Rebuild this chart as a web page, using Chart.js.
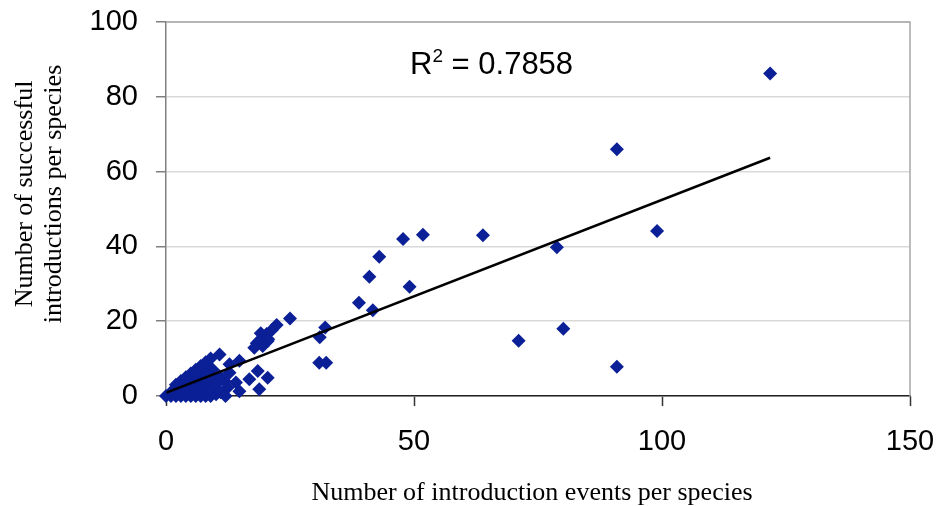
<!DOCTYPE html>
<html>
<head>
<meta charset="utf-8">
<script src="https://cdn.jsdelivr.net/npm/chart.js@4/dist/chart.umd.min.js"></script>
<style>
  html, body { margin: 0; padding: 0; background: #ffffff; }
  #wrap { width: 941px; height: 506px; }
</style>
</head>
<body>
<div id="wrap"><canvas id="chart" width="941" height="506"></canvas></div>
<script>
// Introduction events per species (x) and successful introductions per species (y)
const introEvents = [
  121.8, 90.9, 99.0, 78.8, 63.9, 51.8, 47.8, 43.0, 41.0, 38.9, 41.7, 49.1, 32.1, 31.0, 30.9, 32.3, 71.1, 80.1, 90.9, 25.0,
  22.3, 21.3, 20.3, 19.3, 18.3, 19.1, 20.6, 18.8, 20.5, 19.5, 17.8,
  10.8, 8.1, 12.8, 14.8, 12.8, 16.8, 18.5, 20.5, 18.8, 14.8, 12.4, 10.1, 8.7, 14.1, 11.8, 9.4, 7.1, 10.8, 9.1,
  0, 1, 1, 2, 2, 2, 2, 3, 3, 3, 3, 3, 4, 4, 4, 4, 4, 4, 5, 5, 5, 5, 5, 5, 5,
  6, 6, 6, 6, 6, 6, 6, 6, 7, 7, 7, 7, 7, 7, 7, 7, 8, 8, 8, 8, 8, 8, 8, 8, 9, 9, 9, 9, 10, 11, 12
];
const successfulIntros = [
  86.2, 66.0, 44.1, 39.8, 43.0, 43.1, 42.0, 37.2, 31.9, 24.9, 22.9, 29.2, 18.3, 15.7, 8.9, 8.9, 14.8, 18.0, 7.8, 20.7,
  19.0, 17.6, 16.6, 15.4, 14.1, 16.8, 15.2, 14.7, 14.7, 13.4, 12.9,
  11.1, 8.0, 8.5, 9.4, 6.2, 4.5, 6.7, 4.9, 1.8, 1.3, 2.2, 0.5, 0.9, 3.6, 4.0, 7.1, 7.1, 5.3, 3.6,
  0, 0, 1, 0, 1, 2, 3, 0, 1, 2, 3, 4, 0, 1, 2, 3, 4, 5, 0, 1, 2, 3, 4, 5, 6,
  0, 1, 2, 3, 4, 5, 6, 7, 0, 1, 2, 3, 4, 5, 6, 8, 0, 1, 2, 3, 4, 5, 6, 9, 0, 2, 5, 10, 3, 1, 0
];

// Linear trend line end points
const trendX = [0.1, 121.8];
const trendY = [0.9, 63.7];

const rSquaredText = '0.7858';
const xTitle = 'Number of introduction events per species';
const yTitleLines = ['Number of successful', 'introductions per species'];

const points = introEvents.map((x, i) => ({ x: x, y: successfulIntros[i] }));
const trend = trendX.map((x, i) => ({ x: x, y: trendY[i] }));

const markerColor = '#0b1f96';
const tickFont = { family: '"Liberation Sans", Arial, sans-serif', size: 29 };

// Axis titles, R² label and plot-area frame
const annotations = {
  id: 'annotations',
  afterDraw(chart) {
    const ctx = chart.ctx;
    const area = chart.chartArea;
    ctx.save();

    // frame on top and right of the plot area
    ctx.strokeStyle = '#a6a6a6';
    ctx.lineWidth = 1.5;
    ctx.beginPath();
    ctx.moveTo(area.left, area.top);
    ctx.lineTo(area.right, area.top);
    ctx.lineTo(area.right, area.bottom);
    ctx.stroke();

    // x axis title
    ctx.fillStyle = '#000000';
    ctx.font = '26px "Liberation Serif", "Times New Roman", serif';
    ctx.textAlign = 'center';
    ctx.textBaseline = 'alphabetic';
    ctx.fillText(xTitle, 532, 500);

    // y axis title (two lines, rotated)
    ctx.save();
    ctx.translate(0, 194);
    ctx.rotate(-Math.PI / 2);
    ctx.fillText(yTitleLines[0], 0, 32);
    ctx.fillText(yTitleLines[1], 0, 61);
    ctx.restore();

    // R² label
    ctx.textAlign = 'left';
    ctx.font = '31px "Liberation Sans", Arial, sans-serif';
    let x = 410;
    const base = 74;
    ctx.fillText('R', x, base);
    x += ctx.measureText('R').width;
    ctx.font = '19px "Liberation Sans", Arial, sans-serif';
    ctx.fillText('2', x, base - 12);
    x += ctx.measureText('2').width;
    ctx.font = '31px "Liberation Sans", Arial, sans-serif';
    ctx.fillText(' = ' + rSquaredText, x, base);

    ctx.restore();
  }
};

new Chart(document.getElementById('chart'), {
  type: 'scatter',
  data: {
    datasets: [
      {
        label: 'Species',
        data: points,
        pointStyle: 'rectRot',
        pointRadius: 7,
        pointBackgroundColor: markerColor,
        pointBorderColor: markerColor,
        pointBorderWidth: 0,
        clip: false,
        order: 2
      },
      {
        label: 'Linear trend',
        type: 'line',
        data: trend,
        borderColor: '#000000',
        borderWidth: 2.5,
        pointRadius: 0,
        fill: false,
        order: 1
      }
    ]
  },
  options: {
    responsive: false,
    animation: false,
    devicePixelRatio: 1,
    layout: { padding: { top: 22, right: 31, left: 0, bottom: 0 } },
    plugins: {
      legend: { display: false },
      tooltip: { enabled: false }
    },
    scales: {
      x: {
        type: 'linear',
        min: 0,
        max: 150,
        ticks: { stepSize: 50, color: '#000000', font: tickFont, padding: 19, maxRotation: 0 },
        grid: { drawOnChartArea: false, drawTicks: true, tickLength: 10, tickColor: '#333333', tickWidth: 1.5 },
        border: { color: '#222222', width: 1.5 },
        afterFit(scale) {
          scale.height = 110;
          scale.paddingLeft = 0;
          scale.paddingRight = 0;
        }
      },
      y: {
        type: 'linear',
        min: 0,
        max: 100,
        ticks: { stepSize: 20, color: '#000000', font: tickFont, padding: 18 },
        grid: { color: '#d9d9d9', lineWidth: 1.5, drawTicks: true, tickLength: 10, tickColor: '#808080', tickWidth: 1.5 },
        border: { color: '#808080', width: 1.5 },
        afterFit(scale) {
          scale.width = 166;
          scale.paddingTop = 0;
          scale.paddingBottom = 0;
        }
      }
    }
  },
  plugins: [annotations]
});
</script>
</body>
</html>
